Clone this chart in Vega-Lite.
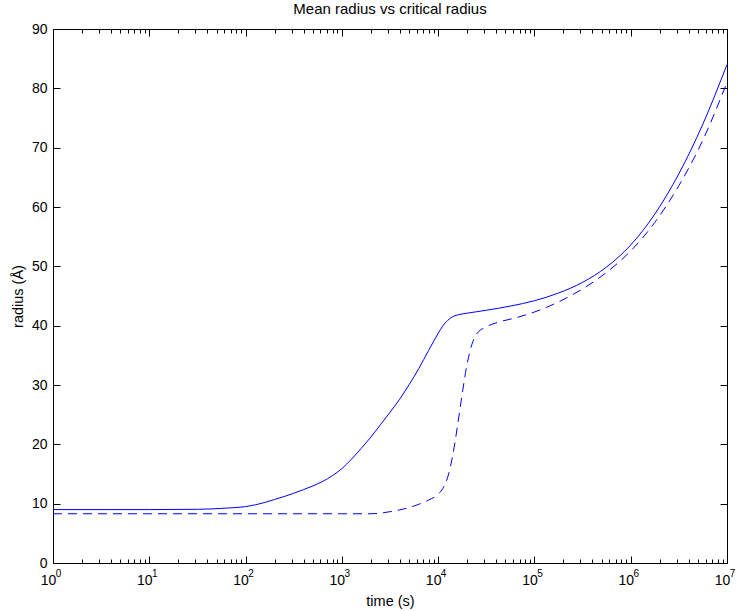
{
  "$schema": "https://vega.github.io/schema/vega-lite/v6.json",
  "width": 674,
  "height": 534,
  "autosize": {"type": "none"},
  "padding": {"left": 53, "top": 29, "right": 13, "bottom": 48},
  "background": "white",
  "title": {"text": "Mean radius vs critical radius", "fontSize": 15, "font": "Liberation Sans", "fontWeight": "normal", "color": "black", "offset": 5},
  "config": {
    "view": {"stroke": null},
    "axis": {"domainColor": "black", "tickColor": "black", "labelColor": "black", "titleColor": "black", "labelFont": "Liberation Sans", "titleFont": "Liberation Sans", "labelFontSize": 14, "titleFontSize": 14.5, "titleFontWeight": "normal", "grid": false, "domainWidth": 1, "tickWidth": 1}
  },
  "data": {"values": [
    {"s": "mean", "t": 1, "r": 9.0},
    {"s": "mean", "t": 3.1623, "r": 9.0},
    {"s": "mean", "t": 10, "r": 9.0},
    {"s": "mean", "t": 31.623, "r": 9.05},
    {"s": "mean", "t": 63.096, "r": 9.25},
    {"s": "mean", "t": 100, "r": 9.5},
    {"s": "mean", "t": 125.89, "r": 9.8},
    {"s": "mean", "t": 158.49, "r": 10.2},
    {"s": "mean", "t": 199.53, "r": 10.7},
    {"s": "mean", "t": 251.19, "r": 11.2},
    {"s": "mean", "t": 316.23, "r": 11.75},
    {"s": "mean", "t": 398.11, "r": 12.35},
    {"s": "mean", "t": 501.19, "r": 13.0},
    {"s": "mean", "t": 630.96, "r": 13.75},
    {"s": "mean", "t": 794.33, "r": 14.7},
    {"s": "mean", "t": 1000, "r": 15.9},
    {"s": "mean", "t": 1258.9, "r": 17.5},
    {"s": "mean", "t": 1584.9, "r": 19.3},
    {"s": "mean", "t": 1995.3, "r": 21.2},
    {"s": "mean", "t": 2511.9, "r": 23.3},
    {"s": "mean", "t": 3162.3, "r": 25.4},
    {"s": "mean", "t": 3981.1, "r": 27.6},
    {"s": "mean", "t": 5011.9, "r": 30.1},
    {"s": "mean", "t": 6309.6, "r": 32.8},
    {"s": "mean", "t": 7943.3, "r": 35.8},
    {"s": "mean", "t": 10000, "r": 38.7},
    {"s": "mean", "t": 11220, "r": 40.0},
    {"s": "mean", "t": 12589, "r": 40.9},
    {"s": "mean", "t": 14125, "r": 41.5},
    {"s": "mean", "t": 15849, "r": 41.8},
    {"s": "mean", "t": 19953, "r": 42.1},
    {"s": "mean", "t": 25119, "r": 42.35},
    {"s": "mean", "t": 31623, "r": 42.6},
    {"s": "mean", "t": 56234, "r": 43.3},
    {"s": "mean", "t": 100000, "r": 44.2},
    {"s": "mean", "t": 177828, "r": 45.5},
    {"s": "mean", "t": 316228, "r": 47.3},
    {"s": "mean", "t": 562341, "r": 49.9},
    {"s": "mean", "t": 1000000, "r": 53.6},
    {"s": "mean", "t": 1778279, "r": 58.8},
    {"s": "mean", "t": 3162278, "r": 65.6},
    {"s": "mean", "t": 5623413, "r": 74.0},
    {"s": "mean", "t": 10000000, "r": 84.0},
    {"s": "critical", "t": 1, "r": 8.3},
    {"s": "critical", "t": 10, "r": 8.3},
    {"s": "critical", "t": 100, "r": 8.3},
    {"s": "critical", "t": 1000, "r": 8.3},
    {"s": "critical", "t": 1995.3, "r": 8.3},
    {"s": "critical", "t": 2511.9, "r": 8.4},
    {"s": "critical", "t": 3162.3, "r": 8.65},
    {"s": "critical", "t": 3981.1, "r": 8.95},
    {"s": "critical", "t": 5011.9, "r": 9.35},
    {"s": "critical", "t": 6309.6, "r": 9.9},
    {"s": "critical", "t": 7943.3, "r": 10.6},
    {"s": "critical", "t": 10000, "r": 11.6},
    {"s": "critical", "t": 11220, "r": 12.6},
    {"s": "critical", "t": 12589, "r": 14.5},
    {"s": "critical", "t": 14125, "r": 18.0},
    {"s": "critical", "t": 15849, "r": 23.0},
    {"s": "critical", "t": 17783, "r": 28.5},
    {"s": "critical", "t": 19953, "r": 33.5},
    {"s": "critical", "t": 22387, "r": 36.8},
    {"s": "critical", "t": 25119, "r": 38.6},
    {"s": "critical", "t": 31623, "r": 39.8},
    {"s": "critical", "t": 44668, "r": 40.7},
    {"s": "critical", "t": 63096, "r": 41.3},
    {"s": "critical", "t": 100000, "r": 42.3},
    {"s": "critical", "t": 177828, "r": 44.0},
    {"s": "critical", "t": 316228, "r": 46.2},
    {"s": "critical", "t": 562341, "r": 49.0},
    {"s": "critical", "t": 1000000, "r": 52.6},
    {"s": "critical", "t": 1778279, "r": 57.4},
    {"s": "critical", "t": 3162278, "r": 63.6},
    {"s": "critical", "t": 5623413, "r": 71.3},
    {"s": "critical", "t": 10000000, "r": 81.0}
  ]},
  "layer": [
    {
      "transform": [{"filter": "datum.s == 'mean'"}],
      "mark": {"type": "line", "color": "#0000ff", "strokeWidth": 1, "interpolate": "monotone", "clip": true},
      "encoding": {
        "x": {"field": "t", "type": "quantitative", "scale": {"type": "log", "domain": [1, 10000000], "nice": false},
          "axis": {"orient": "bottom", "title": "time (s)", "titlePadding": 4,
            "values": [1,2,3,4,5,6,7,8,9,10,20,30,40,50,60,70,80,90,100,200,300,400,500,600,700,800,900,1000,2000,3000,4000,5000,6000,7000,8000,9000,10000,20000,30000,40000,50000,60000,70000,80000,90000,100000,200000,300000,400000,500000,600000,700000,800000,900000,1000000,2000000,3000000,4000000,5000000,6000000,7000000,8000000,9000000,10000000],
            "labelExpr": "abs(log(datum.value)/LN10 - round(log(datum.value)/LN10)) < 0.000001 ? '10' : ''",
            "tickSize": {"condition": {"test": "abs(log(datum.value)/LN10 - round(log(datum.value)/LN10)) < 0.000001", "value": -7}, "value": -4},
            "labelPadding": 17, "labelOffset": -5, "labelFlush": false, "labelOverlap": false}},
        "y": {"field": "r", "type": "quantitative", "scale": {"domain": [0, 90], "nice": false},
          "axis": {"orient": "left", "title": "radius (Å)", "values": [0,10,20,30,40,50,60,70,80,90], "tickSize": -7, "labelPadding": 13, "titlePadding": 6, "labelFlush": false}}
      }
    },
    {
      "transform": [{"filter": "datum.s == 'critical'"}],
      "mark": {"type": "line", "color": "#0000ff", "strokeWidth": 1, "strokeDash": [9, 6], "interpolate": "monotone", "clip": true},
      "encoding": {
        "x": {"field": "t", "type": "quantitative", "scale": {"type": "log", "domain": [1, 10000000], "nice": false},
          "axis": {"orient": "top", "title": null, "labels": false,
            "values": [1,2,3,4,5,6,7,8,9,10,20,30,40,50,60,70,80,90,100,200,300,400,500,600,700,800,900,1000,2000,3000,4000,5000,6000,7000,8000,9000,10000,20000,30000,40000,50000,60000,70000,80000,90000,100000,200000,300000,400000,500000,600000,700000,800000,900000,1000000,2000000,3000000,4000000,5000000,6000000,7000000,8000000,9000000,10000000],
            "tickSize": {"condition": {"test": "abs(log(datum.value)/LN10 - round(log(datum.value)/LN10)) < 0.000001", "value": -7}, "value": -4}}},
        "y": {"field": "r", "type": "quantitative", "scale": {"domain": [0, 90], "nice": false},
          "axis": {"orient": "right", "title": null, "labels": false, "values": [0,10,20,30,40,50,60,70,80,90], "tickSize": -7}}
      }
    },
    {
      "transform": [{"filter": "datum.s == 'mean'"}],
      "mark": {"type": "line", "opacity": 0},
      "encoding": {
        "x": {"field": "t", "type": "quantitative", "scale": {"type": "log", "domain": [1, 10000000], "nice": false},
          "axis": {"orient": "bottom", "title": null, "domain": false, "ticks": false, "tickSize": 0,
            "values": [1,10,100,1000,10000,100000,1000000,10000000],
            "labelExpr": "'' + round(log(datum.value)/LN10)",
            "labelFontSize": 10, "labelPadding": 5, "labelOffset": 5, "labelFlush": false, "labelOverlap": false}}
      }
    }
  ],
  "resolve": {"axis": {"x": "independent", "y": "independent"}}
}
